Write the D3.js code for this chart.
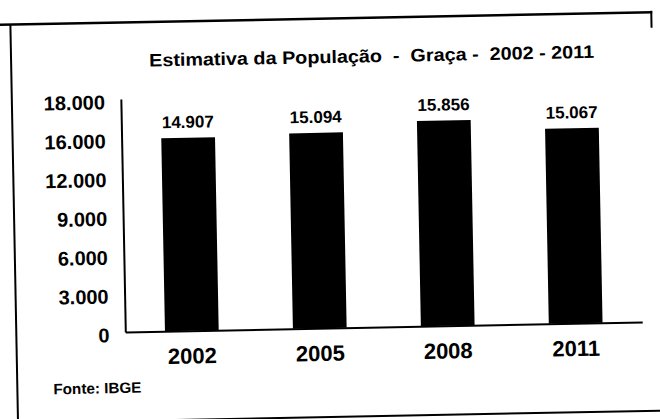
<!DOCTYPE html>
<html>
<head>
<meta charset="utf-8">
<script src="https://cdn.jsdelivr.net/npm/d3@7/dist/d3.min.js"></script>
<style>
  html, body { margin: 0; padding: 0; background: #fff; }
  svg { display: block; font-family: "Liberation Sans", Arial, sans-serif; }
</style>
</head>
<body>
<div id="chart"></div>
<script>
// data
const years = ['2002', '2005', '2008', '2011'];
const population = [14907, 15094, 15856, 15067];
const tickValues = [0, 3000, 6000, 9000, 12000, 15000, 18000];
const tickLabels = ['0', '3.000', '6.000', '9.000', '12.000', '16.000', '18.000'];
const title = 'Estimativa da População  -  Graça -  2002 - 2011';
const source = 'Fonte: IBGE';

const width = 660;
const height = 419;

const ptBR = d3.formatLocale({ decimal: ',', thousands: '.', grouping: [3], currency: ['R$', ''] });
const fmt = ptBR.format(',d');

const svg = d3.select('#chart').append('svg')
    .attr('width', width)
    .attr('height', height);

// the scan is slightly tilted, so draw everything in a rotated group
const g = svg.append('g')
    .attr('transform', 'rotate(-1.1, 330, 210)');

// scanned frame around the chart
const frame = g.append('g')
    .attr('stroke', '#000')
    .attr('fill', 'none');
frame.append('line').attr('x1', -10).attr('y1', 18.5).attr('x2', 656).attr('y2', 18.5).attr('stroke-width', 2.5);
frame.append('line').attr('x1', 14).attr('y1', 18).attr('x2', 14).attr('y2', 430).attr('stroke-width', 2);
frame.append('line').attr('x1', 655).attr('y1', 17).attr('x2', 655).attr('y2', 34).attr('stroke-width', 2);
frame.append('line').attr('x1', 160).attr('y1', 417).attr('x2', 680).attr('y2', 417).attr('stroke-width', 2);

const x = d3.scaleBand()
    .domain(years)
    .range([123, 640])
    .paddingInner(0.58)
    .paddingOuter(0.31);

const y = d3.scaleLinear()
    .domain([0, 18000])
    .range([328, 95]);

// title
g.append('text')
    .attr('x', 374.5)
    .attr('y', 63)
    .attr('text-anchor', 'middle')
    .attr('font-size', 18)
    .attr('font-weight', 'bold')
    .attr('textLength', 445)
    .attr('lengthAdjust', 'spacingAndGlyphs')
    .style('white-space', 'pre')
    .text(title);

// y axis: line and labels, no tick marks
const yAxis = g.append('g')
    .attr('transform', 'translate(123,0)')
    .call(d3.axisLeft(y)
        .tickValues(tickValues)
        .tickFormat((d, i) => tickLabels[i])
        .tickSize(0)
        .tickPadding(16));
yAxis.select('.domain').attr('stroke', '#000').attr('stroke-width', 2);
yAxis.selectAll('text')
    .attr('font-family', '"Liberation Sans", Arial, sans-serif')
    .attr('font-size', 20)
    .attr('font-weight', 'bold')
    .attr('fill', '#000')
    .attr('dy', '0.48em');

// x axis
const xAxis = g.append('g')
    .attr('transform', 'translate(0,328)')
    .call(d3.axisBottom(x).tickSize(0).tickPadding(17));
xAxis.select('.domain').attr('stroke', '#000').attr('stroke-width', 2);
xAxis.selectAll('text')
    .attr('font-family', '"Liberation Sans", Arial, sans-serif')
    .attr('font-size', 22)
    .attr('font-weight', 'bold')
    .attr('fill', '#000')
    .attr('dy', '0.72em');

// bars
g.selectAll('rect.bar')
    .data(years)
    .join('rect')
    .attr('class', 'bar')
    .attr('x', d => x(d))
    .attr('width', x.bandwidth())
    .attr('y', (d, i) => y(population[i]))
    .attr('height', (d, i) => y(0) - y(population[i]))
    .attr('fill', '#000');

// value labels
g.selectAll('text.value')
    .data(years)
    .join('text')
    .attr('class', 'value')
    .attr('x', d => x(d) + x.bandwidth() / 2)
    .attr('y', (d, i) => y(population[i]) - 10)
    .attr('text-anchor', 'middle')
    .attr('font-size', 17)
    .attr('font-weight', 'bold')
    .text((d, i) => fmt(population[i]));

// source note
g.append('text')
    .attr('x', 50)
    .attr('y', 389)
    .attr('font-size', 15)
    .attr('font-weight', 'bold')
    .attr('textLength', 88)
    .attr('lengthAdjust', 'spacingAndGlyphs')
    .text(source);
</script>
</body>
</html>
